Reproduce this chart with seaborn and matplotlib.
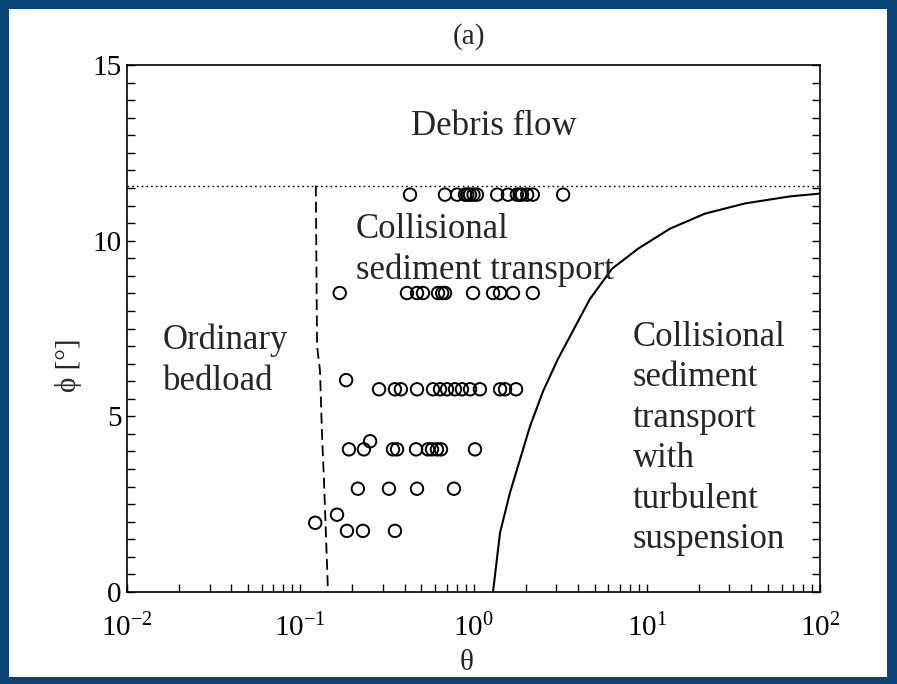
import matplotlib
matplotlib.use("Agg")
import matplotlib.pyplot as plt
from matplotlib.patches import Rectangle
from matplotlib.ticker import LogLocator, LogFormatterMathtext, MultipleLocator, FixedLocator
import seaborn as sns
import pandas as pd

# Measured runs: Shields number theta vs. bed slope phi [deg]
theta_obs = [
    0.43, 0.684, 0.804, 0.893, 0.92, 0.955, 1.0, 1.047, 1.37, 1.58, 1.78, 1.85, 1.905, 2.04, 2.2, 3.29,
    0.169, 0.413, 0.472, 0.511, 0.624, 0.66, 0.685, 0.994, 1.297, 1.423, 1.69, 2.2,
    0.184,
    0.285, 0.352, 0.381, 0.472, 0.584, 0.641, 0.703, 0.782, 0.858, 0.955, 1.089, 1.423, 1.52, 1.76,
    0.253,
    0.191, 0.233, 0.343, 0.362, 0.466, 0.546, 0.576, 0.615, 0.649, 1.02,
    0.215, 0.325, 0.472, 0.771,
    0.163, 0.122, 0.186, 0.23, 0.352,
]
phi_obs = (
    [11.31] * 16
    + [8.51] * 12
    + [6.03]
    + [5.77] * 14
    + [4.29]
    + [4.06] * 10
    + [2.94] * 4
    + [2.2, 1.97, 1.74, 1.74, 1.74]
)

# Regime boundaries
phi_debris = 11.57
bedload_theta = [0.123, 0.125, 0.130, 0.1335, 0.137, 0.141, 0.1446]
bedload_phi = [11.57, 7.0, 6.3, 4.5, 3.2, 1.5, 0.0]
susp_theta = [1.296, 1.423, 1.625, 1.854, 2.117, 2.518, 3.07, 4.70, 6.30, 8.90, 13.6, 21.7, 36.9, 67.1, 100.0]
susp_phi = [0.0, 1.69, 2.83, 3.77, 4.71, 5.71, 6.63, 8.34, 9.2, 9.77, 10.34, 10.77, 11.06, 11.26, 11.34]

x_ticks = [1e-2, 1e-1, 1e0, 1e1, 1e2]
y_ticks = [0, 5, 10, 15]

obs = pd.DataFrame({"theta": theta_obs, "phi": phi_obs})
bed = pd.DataFrame({"theta": bedload_theta, "phi": bedload_phi})
susp = pd.DataFrame({"theta": susp_theta, "phi": susp_phi})

sns.set_style("ticks")
plt.rcParams["font.family"] = ["Liberation Serif", "DejaVu Serif"]
plt.rcParams["mathtext.fontset"] = "custom"
plt.rcParams["mathtext.rm"] = "Liberation Serif"
plt.rcParams["mathtext.it"] = "Liberation Serif:italic"

W, H = 897, 684
fig = plt.figure(figsize=(W / 100, H / 100), dpi=100)
fig.patch.set_facecolor("#0b4575")
fig.add_artist(Rectangle((9 / W, 7 / H), (887 - 9) / W, (677 - 7 - 2) / H,
                         transform=fig.transFigure, facecolor="white", edgecolor="none", zorder=0))

ax = fig.add_axes([127 / W, 1 - 592 / H, (820 - 127) / W, (592 - 65) / H])
ax.set_facecolor("white")
ax.set_xscale("log")
ax.set_xlim(1e-2, 1e2)
ax.set_ylim(0, 15)

ax.axhline(phi_debris, color="black", lw=1.0, ls=(0, (1.2, 2.2)))
sns.lineplot(data=bed, x="theta", y="phi", sort=False, estimator=None, ax=ax,
             color="black", lw=1.3, linestyle=(0, (6, 3)))
sns.lineplot(data=susp, x="theta", y="phi", sort=False, estimator=None, ax=ax,
             color="black", lw=1.5)
sns.scatterplot(data=obs, x="theta", y="phi", ax=ax, marker="o", s=80,
                facecolor="none", edgecolor="black", linewidth=1.4, zorder=3)

fs = 25
tfs = 21
ls = 1.3
ax.text(1.31, 13.26, "Debris flow", fontsize=fs, ha="center", va="center")
ax.text(0.21, 9.74, "Collisional\nsediment transport", fontsize=fs, ha="left", va="center",
        linespacing=ls)
ax.text(0.01614, 6.58, "Ordinary\nbedload", fontsize=fs, ha="left", va="center", linespacing=ls)
ax.text(8.33, 4.37, "Collisional\nsediment\ntransport\nwith\nturbulent\nsuspension", fontsize=fs,
        ha="left", va="center", linespacing=ls)

ax.xaxis.set_major_locator(FixedLocator(x_ticks))
ax.xaxis.set_minor_locator(LogLocator(base=10, subs=range(2, 10)))
ax.xaxis.set_major_formatter(LogFormatterMathtext())
ax.yaxis.set_major_locator(FixedLocator(y_ticks))
ax.yaxis.set_minor_locator(MultipleLocator(0.5))
ax.tick_params(axis="both", which="both", direction="in", length=6, width=1.0,
               labelsize=tfs, colors="black", right=True, top=False)
ax.tick_params(axis="x", which="major", pad=16)
ax.tick_params(axis="y", which="major", pad=4)
for s in ax.spines.values():
    s.set_visible(True)
    s.set_linewidth(1.2)
    s.set_color("black")

ax.set_xlabel("θ", fontsize=tfs)
ax.set_ylabel("ϕ [°]", fontsize=tfs)
ax.xaxis.set_label_coords(0.49, -0.11)
ax.yaxis.set_label_coords(-0.065, 0.431)
fig.text(469 / W, 1 - 37 / H, "(a)", fontsize=tfs, ha="center", va="center")

fig.savefig("out.png", dpi=100, facecolor=fig.get_facecolor())
